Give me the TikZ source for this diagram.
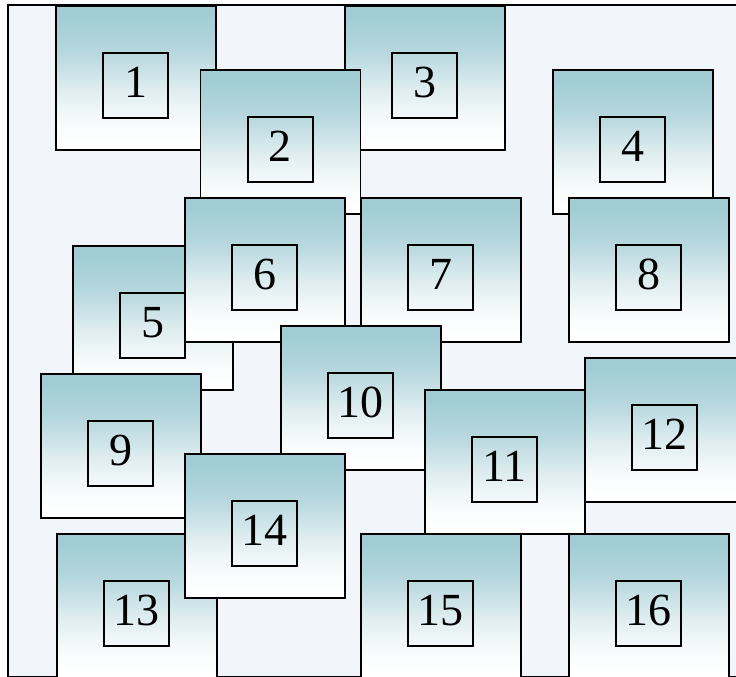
\documentclass[tikz,border=0pt]{standalone}
\usepackage{fontspec}
\setmainfont{Liberation Serif}
\usetikzlibrary{positioning}
\definecolor{tileteal}{RGB}{161,204,212}
\definecolor{tilebg}{RGB}{242,246,250}
\colorlet{tilemid}{tileteal!80!white}
\colorlet{tilelow}{tileteal!35!white}
\colorlet{tilepale}{tileteal!8!white}
\pgfdeclareverticalshading{tilefade}{100bp}{color(0bp)=(white); color(27bp)=(white);
  color(35bp)=(tilepale); color(46bp)=(tilelow); color(60bp)=(tilemid); color(72bp)=(tileteal); color(100bp)=(tileteal)}

\begin{document}
\begin{tikzpicture}[
    x=1pt, y=-1pt,
    tile/.style={rectangle, anchor=north west, minimum width=160pt, minimum height=144pt,
                 inner sep=0pt, shading=tilefade, draw=black, line width=1.6pt},
    tag/.style={rectangle, minimum size=65pt, inner sep=0pt, draw=black, line width=1.8pt,
                yshift=-8pt, text depth=7pt, font=\fontsize{46}{46}\selectfont}
  ]
    \useasboundingbox (0,0) rectangle (736,677);
    \clip (0,0) rectangle (736,677);

    % Background panel
    \draw[fill=tilebg, line width=1.6pt] (8,5) rectangle (760,676.5);

    % Top row
    \node[tile] (p1) at (55,5) {};
    \node[tag] (t1) at (p1) {1};
    \node[tile] (p3) at (344,5) {};
    \node[tag] (t3) at (p3) {3};
    \node[tile] (p2) at (199.5,69) {};
    \node[tag] (t2) at (p2) {2};
    \node[tile] (p4) at (552,69) {};
    \node[tag] (t4) at (p4) {4};

    % Second row
    \node[tile] (p8) at (568,197) {};
    \node[tag] (t8) at (p8) {8};
    \node[tile] (p5) at (72,245) {};
    \node[tag] (t5) at (p5) {5};
    \node[tile] (p6) at (184,197) {};
    \node[tag] (t6) at (p6) {6};
    \node[tile] (p7) at (360,197) {};
    \node[tag] (t7) at (p7) {7};

    % Third row
    \node[tile] (p9) at (40,373) {};
    \node[tag] (t9) at (p9) {9};
    \node[tile] (p10) at (280,325) {};
    \node[tag] (t10) at (p10) {10};
    \node[tile] (p11) at (424,389) {};
    \node[tag] (t11) at (p11) {11};
    \node[tile] (p12) at (584,357) {};
    \node[tag] (t12) at (p12) {12};

    % Bottom row
    \node[tile] (p13) at (56,533) {};
    \node[tag] (t13) at (p13) {13};
    \node[tile] (p14) at (184,453) {};
    \node[tag] (t14) at (p14) {14};
    \node[tile] (p15) at (360,533) {};
    \node[tag] (t15) at (p15) {15};
    \node[tile] (p16) at (568,533) {};
    \node[tag] (t16) at (p16) {16};
  \end{tikzpicture}
\end{document}
